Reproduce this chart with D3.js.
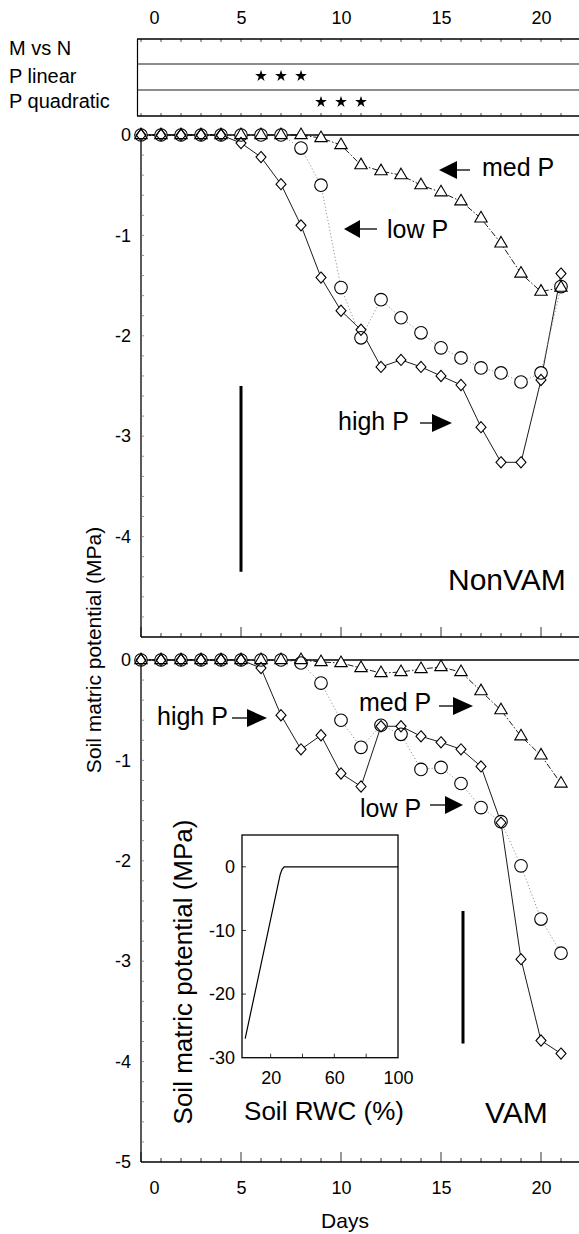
<html>
<head>
<meta charset="utf-8">
<script src="https://cdnjs.cloudflare.com/ajax/libs/d3/7.8.5/d3.min.js"></script>
<style>
  body { margin: 0; background: #fff; }
  text { font-family: "Liberation Sans", Arial, Helvetica, sans-serif; fill: #000; }
</style>
</head>
<body>
<div id="chart"></div>
<script>

// days of the drying cycle
var days = [0,1,2,3,4,5,6,7,8,9,10,11,12,13,14,15,16,17,18,19,20,21];

// NonVAM (upper panel), MPa
var nonvamHighP = [0,0,0,0,0,-0.08,-0.22,-0.49,-0.90,-1.42,-1.75,-1.94,-2.31,-2.24,-2.31,-2.40,-2.49,-2.91,-3.26,-3.26,-2.44,-1.38];
var nonvamLowP  = [0,0,0,0,0,0,0,0,-0.13,-0.50,-1.52,-2.02,-1.64,-1.82,-1.97,-2.12,-2.22,-2.32,-2.37,-2.46,-2.37,-1.51];
var nonvamMedP  = [0,0,0,0,0,0,0,0,0,-0.03,-0.10,-0.30,-0.36,-0.40,-0.50,-0.57,-0.66,-0.83,-1.08,-1.38,-1.56,-1.52];

// VAM (lower panel), MPa
var vamHighP = [0,0,0,0,0,0,-0.08,-0.55,-0.89,-0.75,-1.13,-1.26,-0.66,-0.66,-0.76,-0.82,-0.89,-1.06,-1.62,-2.98,-3.79,-3.92];
var vamLowP  = [0,0,0,0,0,0,0,0,-0.03,-0.23,-0.60,-0.87,-0.65,-0.74,-1.09,-1.07,-1.23,-1.47,-1.61,-2.05,-2.58,-2.92];
var vamMedP  = [0,0,0,0,0,0,0,0,0,-0.02,-0.03,-0.08,-0.13,-0.12,-0.09,-0.07,-0.12,-0.31,-0.50,-0.76,-0.95,-1.23];

// LSD bars (day, top, bottom)
var lsdDays   = [5, 16.1];
var lsdTop    = [-2.5, -2.5];
var lsdBottom = [-4.35, -3.82];

// significance rows
var sigRows = ["M vs N", "P linear", "P quadratic"];
var sigDays = [[], [6,7,8], [9,10,11]];

var xTicks = [0,5,10,15,20];
var yTicksUpper = [0,-1,-2,-3,-4];
var yTicksLower = [0,-1,-2,-3,-4,-5];

// inset: soil RWC (%) vs matric potential (MPa)
var insetRwc = [4, 26, 27.2, 28.5, 100];
var insetPsi = [-27, -1.2, -0.4, 0, 0];
var insetXTicks = [20,60,100];
var insetYTicks = [0,-10,-20,-30];

var W = 579, H = 1234;
var svg = d3.select("#chart").append("svg").attr("width", W).attr("height", H);

var x  = d3.scaleLinear().domain([0, 21.9]).range([141, 579]);
var yU = d3.scaleLinear().domain([-5, 0]).range([637, 135]);
var yL = d3.scaleLinear().domain([-5, 0]).range([1162, 660]);

function styleAxis(g, size) {
  g.select(".domain").remove();
  g.selectAll(".tick line").remove();
  g.attr("font-size", null).attr("font-family", null);
  g.selectAll("text").style("font-size", size + "px");
}

// ---- top day labels + significance box
var topAx = svg.append("g").attr("transform", "translate(0,24)")
  .call(d3.axisTop(x).tickValues(xTicks).tickSize(0).tickPadding(0).tickFormat(function(d){ return String(d); }));
styleAxis(topAx, 18);
topAx.selectAll(".tick").filter(function(d){ return d === 0; }).select("text").attr("dx", 13);

var rowY = [39, 64, 90, 116];
var box = svg.append("g");
box.selectAll("line.row").data(rowY).enter().append("line")
  .attr("x1", 137).attr("x2", W).attr("y1", function(d){ return d; }).attr("y2", function(d){ return d; })
  .attr("stroke", "#000").attr("stroke-width", function(d, i){ return (i === 0 || i === 3) ? 1.5 : 0.9; });
box.append("line").attr("x1", 137.5).attr("x2", 137.5).attr("y1", 39).attr("y2", 116).attr("stroke", "#000").attr("stroke-width", 1.2);
box.selectAll("line.tt").data(days).enter().append("line")
  .attr("x1", function(d){ return x(d); }).attr("x2", function(d){ return x(d); })
  .attr("y1", 39).attr("y2", 42).attr("stroke", "#000").attr("stroke-width", 0.7);
box.selectAll("line.tb").data(days).enter().append("line")
  .attr("x1", function(d){ return x(d); }).attr("x2", function(d){ return x(d); })
  .attr("y1", 113).attr("y2", 116).attr("stroke", "#000").attr("stroke-width", 0.7);
box.selectAll("text.rl").data(sigRows).enter().append("text")
  .attr("x", 9).attr("y", function(d, i){ return [55, 83, 108][i]; })
  .style("font-size", "20px").text(function(d){ return d; });
var star = d3.symbol().type(d3.symbolStar).size(42);
sigDays.forEach(function(ds, i){
  box.selectAll(null).data(ds).enter().append("path")
    .attr("d", star)
    .attr("transform", function(d){ return "translate(" + x(d) + "," + ((rowY[i] + rowY[i+1]) / 2 - 1) + ")"; })
    .attr("fill", "#000");
});

// ---- marker shapes
var shapes = {
  diamond: "M0,-5.6L5,0L0,5.6L-5,0Z",
  triangle: "M0,-7L6.2,3.6L-6.2,3.6Z"
};

function drawPanel(y, high, low, med, yTicks, lsdIdx) {
  var g = svg.append("g");
  var top = y(0), bot = y(-5);

  // frame
  g.append("line").attr("x1", x(0)).attr("x2", W).attr("y1", top).attr("y2", top).attr("stroke", "#000").attr("stroke-width", 1.4);
  g.append("line").attr("x1", x(0)).attr("x2", W).attr("y1", bot).attr("y2", bot).attr("stroke", "#000").attr("stroke-width", 1.6);
  g.append("line").attr("x1", x(0)).attr("x2", x(0)).attr("y1", top).attr("y2", bot).attr("stroke", "#000").attr("stroke-width", 1.3);

  // inner ticks
  g.selectAll(null).data(days).enter().append("line")
    .attr("x1", function(d){ return x(d); }).attr("x2", function(d){ return x(d); })
    .attr("y1", bot).attr("y2", function(d){ return bot - (d % 5 === 0 ? 10 : 4); })
    .attr("stroke", "#000").attr("stroke-width", 0.8);
  var minor = d3.range(1, 25).map(function(i){ return -i * 0.2; });
  g.selectAll(null).data(minor).enter().append("line")
    .attr("x1", x(0)).attr("x2", x(0) + 3)
    .attr("y1", function(d){ return y(d); }).attr("y2", function(d){ return y(d); })
    .attr("stroke", "#777").attr("stroke-width", 0.8);

  var yAx = g.append("g").attr("transform", "translate(" + x(0) + ",0)")
    .call(d3.axisLeft(y).tickValues(yTicks).tickSize(0).tickPadding(10).tickFormat(function(d){ return String(d); }));
  styleAxis(yAx, 18);

  // LSD bar
  g.append("line")
    .attr("x1", x(lsdDays[lsdIdx])).attr("x2", x(lsdDays[lsdIdx]))
    .attr("y1", y(lsdTop[lsdIdx])).attr("y2", y(lsdBottom[lsdIdx]))
    .attr("stroke", "#000").attr("stroke-width", 3);

  var series = [
    { v: high, shape: "diamond",  dash: null,          color: "#000", w: 0.9 },
    { v: low,  shape: "circle",   dash: "1.2,2.2",     color: "#888", w: 0.9 },
    { v: med,  shape: "triangle", dash: "6,2,1.5,2",   color: "#000", w: 0.9 }
  ];
  var line = d3.line().x(function(d){ return x(d[0]); }).y(function(d){ return y(d[1]); });

  series.forEach(function(s){
    s.pts = days.map(function(d, i){ return [d, s.v[i]]; });
    g.append("path").attr("d", line(s.pts)).attr("fill", "none")
      .attr("stroke", s.color).attr("stroke-width", s.w)
      .attr("stroke-dasharray", s.dash);
  });

  function marks(s, fill, stroke) {
    var sel = g.selectAll(null).data(s.pts).enter();
    var m;
    if (s.shape === "circle") {
      m = sel.append("circle").attr("cx", function(d){ return x(d[0]); }).attr("cy", function(d){ return y(d[1]); }).attr("r", 6.3);
    } else {
      m = sel.append("path").attr("d", shapes[s.shape])
        .attr("transform", function(d){ return "translate(" + x(d[0]) + "," + y(d[1]) + ")"; });
    }
    m.attr("fill", fill).attr("stroke", stroke).attr("stroke-width", 1.1);
  }
  series.forEach(function(s){ marks(s, "#fff", "none"); });
  series.forEach(function(s){ marks(s, "none", "#000"); });
  return g;
}

function arrow(g, tipX, yy, dir, head, len) {
  // dir = -1 : points left, +1 : points right
  var baseX = tipX - dir * head;
  g.append("line").attr("x1", baseX).attr("x2", baseX - dir * len).attr("y1", yy).attr("y2", yy)
    .attr("stroke", "#000").attr("stroke-width", 1.3);
  g.append("path").attr("d", "M" + tipX + "," + yy + "L" + baseX + "," + (yy - 9) + "L" + baseX + "," + (yy + 9) + "Z")
    .attr("fill", "#000");
}

function label(g, tx, ty, txt, size) {
  g.append("text").attr("x", tx).attr("y", ty).style("font-size", size + "px").text(txt);
}

var up = drawPanel(yU, nonvamHighP, nonvamLowP, nonvamMedP, yTicksUpper, 0);
arrow(up, 439, 170, -1, 18, 13); label(up, 482, 176, "med P", 25);
arrow(up, 344, 229, -1, 16, 17); label(up, 387, 238, "low P", 25);
arrow(up, 452, 423, 1, 20, 12);  label(up, 338, 430, "high P", 25);
label(up, 448, 590, "NonVAM", 30);

var lo = drawPanel(yL, vamHighP, vamLowP, vamMedP, yTicksLower, 1);
arrow(lo, 267, 718, 1, 20, 15); label(lo, 157, 725, "high P", 25);
arrow(lo, 473, 706, 1, 20, 14); label(lo, 359, 711, "med P", 25);
arrow(lo, 463, 805, 1, 18, 15); label(lo, 360, 817, "low P", 25);
label(lo, 485, 1123, "VAM", 30);

// bottom day axis
var botAx = svg.append("g").attr("transform", "translate(0,1181)")
  .call(d3.axisBottom(x).tickValues(xTicks).tickSize(0).tickPadding(0).tickFormat(function(d){ return String(d); }));
styleAxis(botAx, 18);
botAx.selectAll(".tick").filter(function(d){ return d === 0; }).select("text").attr("dx", 13);

svg.append("text").attr("x", 345).attr("y", 1228).attr("text-anchor", "middle").style("font-size", "21px").text("Days");
svg.append("text").attr("transform", "translate(101,650) rotate(-90)").attr("text-anchor", "middle")
  .style("font-size", "21px").text("Soil matric potential (MPa)");

// ---- inset
var ix = d3.scaleLinear().domain([2, 100]).range([242, 398]);
var iy = d3.scaleLinear().domain([-30, 5]).range([1057.7, 835]);
var ins = svg.append("g");
ins.append("rect").attr("x", ix(2)).attr("y", iy(5)).attr("width", ix(100) - ix(2)).attr("height", iy(-30) - iy(5))
  .attr("fill", "#fff").attr("stroke", "#000").attr("stroke-width", 1.3);
ins.selectAll(null).data([20,40,60,80]).enter().append("line")
  .attr("x1", function(d){ return ix(d); }).attr("x2", function(d){ return ix(d); })
  .attr("y1", iy(-30)).attr("y2", iy(-30) - 4).attr("stroke", "#000").attr("stroke-width", 0.8);
ins.selectAll(null).data([0,-10,-20]).enter().append("line")
  .attr("x1", ix(2)).attr("x2", ix(2) + 4)
  .attr("y1", function(d){ return iy(d); }).attr("y2", function(d){ return iy(d); })
  .attr("stroke", "#000").attr("stroke-width", 0.8);
ins.append("path")
  .attr("d", d3.line().x(function(d){ return ix(d[0]); }).y(function(d){ return iy(d[1]); })
    (insetRwc.map(function(r, i){ return [r, insetPsi[i]]; })))
  .attr("fill", "none").attr("stroke", "#000").attr("stroke-width", 1.2);
var iyAx = ins.append("g").attr("transform", "translate(" + ix(2) + ",0)")
  .call(d3.axisLeft(iy).tickValues(insetYTicks).tickSize(0).tickPadding(7).tickFormat(function(d){ return String(d); }));
styleAxis(iyAx, 18);
var ixAx = ins.append("g").attr("transform", "translate(0," + iy(-30) + ")")
  .call(d3.axisBottom(ix).tickValues(insetXTicks).tickSize(0).tickPadding(14).tickFormat(function(d){ return String(d); }));
styleAxis(ixAx, 18);
ins.append("text").attr("x", 324).attr("y", 1120).attr("text-anchor", "middle").style("font-size", "26px").text("Soil RWC (%)");
ins.append("text").attr("transform", "translate(192,972) rotate(-90)").attr("text-anchor", "middle")
  .style("font-size", "26px").text("Soil matric potential (MPa)");

</script>
</body>
</html>
